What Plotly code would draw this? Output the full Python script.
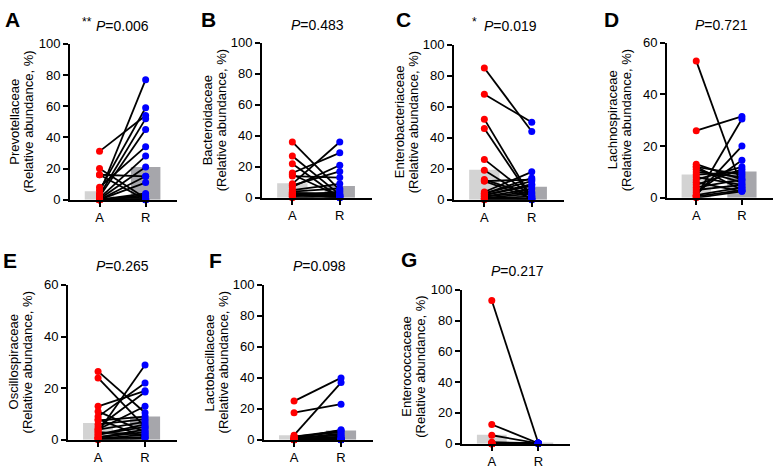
import plotly.graph_objects as go

# ---------------- data ----------------
groups = ["A", "R"]

families = ["Prevotellaceae", "Bacteroidaceae", "Enterobacteriaceae", "Lachnospiraceae",
            "Oscillospiraceae", "Lactobacillaceae", "Enterococcaceae"]
panel_letters = ["A", "B", "C", "D", "E", "F", "G"]
p_values = ["0.006", "0.483", "0.019", "0.721", "0.265", "0.098", "0.217"]
stars = ["**", "", "*", "", "", "", ""]
y_max = [100, 100, 100, 60, 60, 100, 100]
y_dtick = [20, 20, 20, 20, 20, 20, 20]

prev_A = [31, 20, 16, 16, 8, 6, 4, 3, 2, 1, 0.5, 0, 0, 0, 0, 0, 0, 0, 0, 0]
prev_R = [54, 1, 15, 0, 34, 59, 77, 52, 45, 28, 21, 15, 11, 4, 3, 2, 0.5, 0, 0, 0]
prev_bar = [5.4, 21.0]

bact_A = [36, 27, 22, 16, 15, 14, 9, 8, 7, 5, 4, 3, 3, 2, 2, 1, 1, 3, 0, 2]
bact_R = [5, 2, 0, 29, 1, 13, 36, 17, 21, 9, 6, 3, 2, 1, 0.5, 4, 2, 0.5, 1, 0]
bact_bar = [9.3, 7.6]

ent_A = [85, 68, 52, 46, 26, 19, 13, 12, 12, 5, 4, 4, 3, 3, 2, 2, 1, 1, 0.5, 0]
ent_R = [44, 50, 1, 0.5, 2, 0, 3, 1, 13, 18, 14, 12, 10, 9, 7, 5, 4, 2, 0.5, 0]
ent_bar = [19.3, 8.3]

lach_A = [53, 26, 13, 12, 12, 11, 10, 9, 8, 7, 6, 5, 4, 3, 2, 1, 1, 0.5, 0.5, 0]
lach_R = [4, 31.5, 7, 9, 3, 6, 8, 10, 5, 12, 2.5, 11, 7, 5, 14.5, 20, 4, 30.5, 3, 2.5]
lach_bar = [9.0, 10.2]

osc_A = [26.5, 24, 13, 11, 9, 8, 7.5, 6, 5, 4, 4, 3, 3, 2, 2, 1, 1, 0.5, 0.5, 0]
osc_R = [10.5, 5, 19, 3, 22, 1, 9, 8, 18.5, 7, 13, 29, 2, 6, 5, 4, 3, 1, 2, 0.5]
osc_bar = [6.5, 9.0]

lac_A = [25, 17.5, 3, 1, 2, 2, 1, 1, 0.5, 0.5, 0.5, 0, 0, 0, 0, 0, 0, 0, 0, 0]
lac_R = [40, 23, 37, 6.5, 6, 5, 4, 3, 2, 1, 1, 0.5, 0.5, 0, 0, 0, 0, 0, 0, 0]
lac_bar = [3.0, 6.0]

entc_A = [93, 12.5, 5.5, 1, 0.5, 0.5, 0.3, 0, 0, 0, 0, 0, 0, 0, 0, 0, 0, 0, 0, 0]
entc_R = [0.3] * 20
entc_bar = [5.8, 0.3]

paired_A = [prev_A, bact_A, ent_A, lach_A, osc_A, lac_A, entc_A]
paired_R = [prev_R, bact_R, ent_R, lach_R, osc_R, lac_R, entc_R]
bar_means = [prev_bar, bact_bar, ent_bar, lach_bar, osc_bar, lac_bar, entc_bar]

# ---------------- layout geometry (pixels) ----------------
W, H = 777, 474
# (axis_left, axis_right, y_top, y_bottom) for each panel
boxes = [(70, 177, 38, 199), (262, 372, 37, 197), (454, 564, 39, 199), (667, 773, 37, 197),
         (68, 177, 287, 447), (264, 373, 287, 447), (462, 570, 292, 451)]
letter_pos = [(12, 13), (208, 13), (403, 13), (611, 13), (10, 262), (215, 262), (409, 261)]
title_pos = [(123, 20), (317, 19), (510, 20), (721, 19), (123, 267), (319, 267), (517, 273)]
xr = [-0.64, 1.68]

FONT = "Liberation Sans, Arial, sans-serif"
fig = go.Figure()
annotations = []

for i in range(7):
    ax = "" if i == 0 else str(i + 1)
    xa, ya = "x" + ax, "y" + ax
    # bars (means)
    fig.add_trace(go.Bar(x=[0, 1], y=bar_means[i], width=0.64,
                         marker=dict(color=["#d3d3d3", "#a6a6ab"], line=dict(width=0)),
                         xaxis=xa, yaxis=ya, showlegend=False))
    # paired lines
    lx, ly = [], []
    for a, r in zip(paired_A[i], paired_R[i]):
        lx += [0, 1, None]
        ly += [a, r, None]
    fig.add_trace(go.Scatter(x=lx, y=ly, mode="lines", line=dict(color="black", width=1.8),
                             xaxis=xa, yaxis=ya, showlegend=False, cliponaxis=False))
    fig.add_trace(go.Scatter(x=[0] * len(paired_A[i]), y=paired_A[i], mode="markers",
                             marker=dict(color="#ff0000", size=7),
                             xaxis=xa, yaxis=ya, showlegend=False, cliponaxis=False))
    fig.add_trace(go.Scatter(x=[1] * len(paired_R[i]), y=paired_R[i], mode="markers",
                             marker=dict(color="#0000ff", size=7),
                             xaxis=xa, yaxis=ya, showlegend=False, cliponaxis=False))

    x0, x1, yt, yb = boxes[i]
    fig.update_layout(**{
        "xaxis" + ax: dict(domain=[x0 / W, x1 / W], range=xr, anchor=ya,
                           tickvals=[0, 1], ticktext=groups, showline=True, linecolor="black",
                           linewidth=1.8, ticks="outside", ticklen=5, tickwidth=1.8,
                           tickcolor="black", showgrid=False, zeroline=False,
                           tickfont=dict(size=13, color="black", family=FONT)),
        "yaxis" + ax: dict(domain=[1 - yb / H, 1 - yt / H], range=[0, y_max[i]], anchor=xa,
                           dtick=y_dtick[i], showline=True, linecolor="black", linewidth=1.8,
                           ticks="outside", ticklen=5, tickwidth=1.8, tickcolor="black",
                           showgrid=False, zeroline=False,
                           tickfont=dict(size=13, color="black", family=FONT)),
    })
    yc = 1 - (yt + yb) / 2 / H
    annotations.append(dict(x=(x0 - 55) / W, y=yc, xref="paper", yref="paper", text=families[i],
                            textangle=-90, showarrow=False, xanchor="center", yanchor="middle",
                            font=dict(size=13, color="black", family=FONT)))
    annotations.append(dict(x=(x0 - 41) / W, y=yc, xref="paper", yref="paper",
                            text="(Relative abundance, %)", textangle=-90, showarrow=False,
                            xanchor="center", yanchor="middle",
                            font=dict(size=13, color="black", family=FONT)))
    lx_, ly_ = letter_pos[i]
    annotations.append(dict(x=lx_ / W, y=1 - ly_ / H, xref="paper", yref="paper",
                            text="<b>" + panel_letters[i] + "</b>", showarrow=False,
                            xanchor="center", yanchor="middle",
                            font=dict(size=21, color="black", family=FONT)))
    tx, ty = title_pos[i]
    annotations.append(dict(x=tx / W, y=1 - ty / H, xref="paper", yref="paper",
                            text="<i>P</i>=" + p_values[i], showarrow=False,
                            xanchor="center", yanchor="middle",
                            font=dict(size=14, color="black", family=FONT)))
    if stars[i]:
        annotations.append(dict(x=(tx - 36) / W, y=1 - (ty - 4) / H, xref="paper", yref="paper",
                                text=stars[i], showarrow=False, xanchor="center",
                                yanchor="middle",
                                font=dict(size=12, color="black", family=FONT)))

fig.update_layout(width=W, height=H, margin=dict(l=0, r=0, t=0, b=0),
                  paper_bgcolor="white", plot_bgcolor="white", barmode="overlay",
                  annotations=annotations, font=dict(family=FONT, color="black"))

fig.write_html("out.html", config={"displayModeBar": False},
               post_script="document.body.style.margin='0';document.body.style.overflow='hidden';")
